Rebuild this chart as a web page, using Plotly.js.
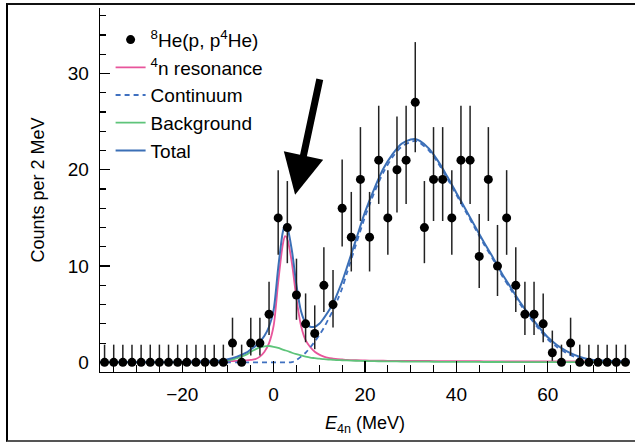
<!DOCTYPE html>
<html>
<head>
<meta charset="utf-8">
<script src="https://cdn.plot.ly/plotly-3.0.1.min.js"></script>
<style>
  html, body { margin: 0; padding: 0; background: #fff; overflow: hidden; }
  #wrap { position: relative; width: 635px; height: 442px; }
  #chart { position: absolute; left: 0; top: 0; width: 635px; height: 442px; }
  #frame { position: absolute; left: 6px; top: 3px; width: 640px; height: 435px;
           border-left: 2px solid #000; border-top: 2px solid #111; border-bottom: 2px solid #555;
           pointer-events: none; }
</style>
</head>
<body>
<div id="wrap">
  <div id="chart"></div>
  <div id="frame"></div>
</div>
<script>
// Measured spectrum: bin centres (MeV) and counts per 2 MeV
const energy = [-37,-35,-33,-31,-29,-27,-25,-23,-21,-19,-17,-15,-13,-11,
  -9,-7,-5,-3,-1,1,3,5,7,9,11,13,15,17,19,21,23,25,27,29,31,33,35,37,39,41,43,45,47,49,51,53,55,57,59,61,63,65,
  67,69,71,73,75,77];
const counts = [0,0,0,0,0,0,0,0,0,0,0,0,0,0,
  2,0,2,2,5,15,14,7,4,3,8,6,16,13,19,13,21,15,20,21,27,14,19,19,15,21,21,11,19,10,15,8,5,5,4,1,0,2,
  0,0,0,0,0,0];
const errUp = [1.84,1.84,1.84,1.84,1.84,1.84,1.84,1.84,1.84,1.84,1.84,1.84,1.84,1.84,
  2.64,1.84,2.64,2.64,3.38,4.96,4.83,3.77,3.16,2.92,3.95,3.58,5.08,4.70,5.43,4.70,5.65,4.96,5.54,5.65,6.26,4.83,5.43,5.43,4.96,5.65,5.65,4.42,5.43,4.27,4.96,3.95,3.38,3.38,3.16,2.30,1.84,2.64,
  1.84,1.84,1.84,1.84,1.84,1.84];
const errDown = [0,0,0,0,0,0,0,0,0,0,0,0,0,0,
  1.29,0,1.29,1.29,2.16,3.83,3.70,2.58,1.91,1.63,2.77,2.38,3.96,3.56,4.32,3.56,4.55,3.83,4.44,4.55,5.18,3.70,4.32,4.32,3.83,4.55,4.55,3.27,4.32,3.11,3.83,2.77,2.16,2.16,1.91,0.83,0,1.29,
  0,0,0,0,0,0];

// Fit curves
const curveE = [-38,-30,-20,-15,-12,-10,-8,-6,-5,-4,-3,-2,-1,0,1,2,2.5,3,4,5,6,7,8,9,10,11,12,13,14,15,16,18,20,22,24,26,28,30,31,32,34,36,38,40,42,44,46,48,50,52,54,56,58,60,62,64,66,68,70,74,78];
const resonance = [0.03,0.04,0.06,0.08,0.1,0.12,0.15,0.2,0.25,0.33,0.6,1.1,2.0,3.8,8.3,12.2,13.1,12.8,10.3,6.6,3.8,2.3,1.6,1.1,0.8,0.6,0.47,0.4,0.34,0.3,0.26,0.22,0.2,0.18,0.17,0.16,0.15,0.15,0.14,0.14,0.14,0.13,0.13,0.12,0.12,0.12,0.11,0.11,0.11,0.1,0.1,0.1,0.1,0.1,0.09,0.09,0.09,0.09,0.09,0.08,0.08];
const continuum = [0,0,0,0,0,0,0,0,0,0,0,0,0,0,0,0,0,0,0.02,0.25,0.6,1.0,1.55,2.15,2.85,3.6,4.5,5.4,6.5,7.7,9.2,12.2,15.1,17.6,19.7,21.3,22.4,22.9,23.0,22.8,22.0,20.7,19.1,17.4,15.7,14.0,12.3,10.7,9.0,7.5,6.0,4.7,3.5,2.4,1.6,1.0,0.55,0.25,0.1,0.02,0];
const background = [0,0,0.01,0.03,0.08,0.2,0.45,0.8,1.1,1.35,1.55,1.67,1.7,1.62,1.5,1.32,1.25,1.18,1.0,0.85,0.72,0.6,0.5,0.44,0.38,0.34,0.3,0.27,0.24,0.22,0.2,0.17,0.14,0.12,0.11,0.1,0.09,0.08,0.08,0.07,0.07,0.06,0.06,0.05,0.05,0.05,0.04,0.04,0.04,0.03,0.03,0.03,0.03,0.03,0.02,0.02,0.02,0.02,0.02,0.01,0.01];
const total = [0.03,0.04,0.07,0.11,0.18,0.32,0.6,1.0,1.35,1.68,2.15,2.77,3.7,5.45,9.8,13.5,14.3,14.0,11.6,8.0,5.3,4.1,3.7,3.7,4.0,4.6,5.3,6.1,7.2,8.4,9.8,12.7,15.6,18.0,20.1,21.6,22.7,23.15,23.2,23.0,22.2,20.9,19.3,17.6,15.9,14.2,12.5,10.9,9.2,7.7,6.2,4.9,3.7,2.6,1.8,1.2,0.75,0.42,0.25,0.14,0.1];

const legendNames = ['<sup>8</sup>He(p, p<sup>4</sup>He)', '<sup>4</sup>n resonance', 'Continuum', 'Background', 'Total'];

const FONT = 'Liberation Sans, Arial, Helvetica, sans-serif';

const traces = [
  {x: curveE, y: resonance, mode: 'lines', name: legendNames[1], legendrank: 2, legendgroup: 'b',
   line: {color: '#e8559b', width: 1.8, shape: 'spline', smoothing: 0.8}},
  {x: curveE, y: background, mode: 'lines', name: legendNames[3], legendrank: 4, legendgroup: 'd',
   line: {color: '#5ec47a', width: 1.8, shape: 'spline', smoothing: 0.8}},
  {x: curveE, y: continuum, mode: 'lines', name: legendNames[2], legendrank: 3, legendgroup: 'c',
   line: {color: '#3f70c0', width: 1.8, dash: '5px,4px', shape: 'spline', smoothing: 0.8}},
  {x: curveE, y: total, mode: 'lines', name: legendNames[4], legendrank: 5, legendgroup: 'e',
   line: {color: '#3b6fb6', width: 2, shape: 'spline', smoothing: 0.8}},
  {x: energy, y: counts, mode: 'markers', name: legendNames[0], legendrank: 1, legendgroup: 'a',
   marker: {color: '#000', size: 9},
   error_y: {type: 'data', symmetric: false, array: errUp, arrayminus: errDown,
             color: '#222', thickness: 1.5, width: 0}}
];

const layout = {
  width: 635, height: 442,
  margin: {l: 100, r: 5, t: 8, b: 70},
  paper_bgcolor: '#fff', plot_bgcolor: '#fff',
  font: {family: FONT, size: 19, color: '#000'},
  showlegend: true,
  legend: {x: 0.02, y: 0.965, xanchor: 'left', yanchor: 'top', bgcolor: 'rgba(0,0,0,0)',
           font: {family: FONT, size: 19, color: '#000'}, tracegroupgap: 0, traceorder: 'normal'},
  xaxis: {
    range: [-38, 78], showline: true, linecolor: '#000', linewidth: 1.3, mirror: false,
    showgrid: false, zeroline: false,
    tick0: 0, dtick: 20, ticks: 'inside', ticklen: 11, tickwidth: 1.3, tickcolor: '#000',
    ticklabelstandoff: 5,
    minor: {dtick: 5, tick0: 0, ticks: 'inside', ticklen: 7, tickwidth: 1.1, tickcolor: '#000', showgrid: false},
    tickfont: {family: FONT, size: 19, color: '#000'},
    title: {text: '<i>E</i><sub>4n</sub> (MeV)', font: {family: FONT, size: 18, color: '#000'}, standoff: 12}
  },
  yaxis: {
    range: [-1, 36.8], showline: true, linecolor: '#000', linewidth: 1.3,
    showgrid: false, zeroline: false,
    tick0: 0, dtick: 10, ticks: 'inside', ticklen: 10, tickwidth: 1.3, tickcolor: '#000',
    ticklabelstandoff: 6,
    minor: {dtick: 2, tick0: 0, ticks: 'inside', ticklen: 6, tickwidth: 1.1, tickcolor: '#000', showgrid: false},
    tickfont: {family: FONT, size: 19, color: '#000'},
    title: {text: 'Counts per 2 MeV', font: {family: FONT, size: 18, color: '#000'}, standoff: 18}
  },
  annotations: [{
    x: 4.7, y: 17.4, xref: 'x', yref: 'y', text: '', showarrow: true,
    ax: 25, ay: -117, axref: 'pixel', ayref: 'pixel',
    arrowhead: 2, arrowsize: 1.15, arrowwidth: 7, arrowcolor: '#000', standoff: 0
  }]
};

Plotly.newPlot('chart', traces, layout, {displayModeBar: false, staticPlot: true});
</script>
</body>
</html>
